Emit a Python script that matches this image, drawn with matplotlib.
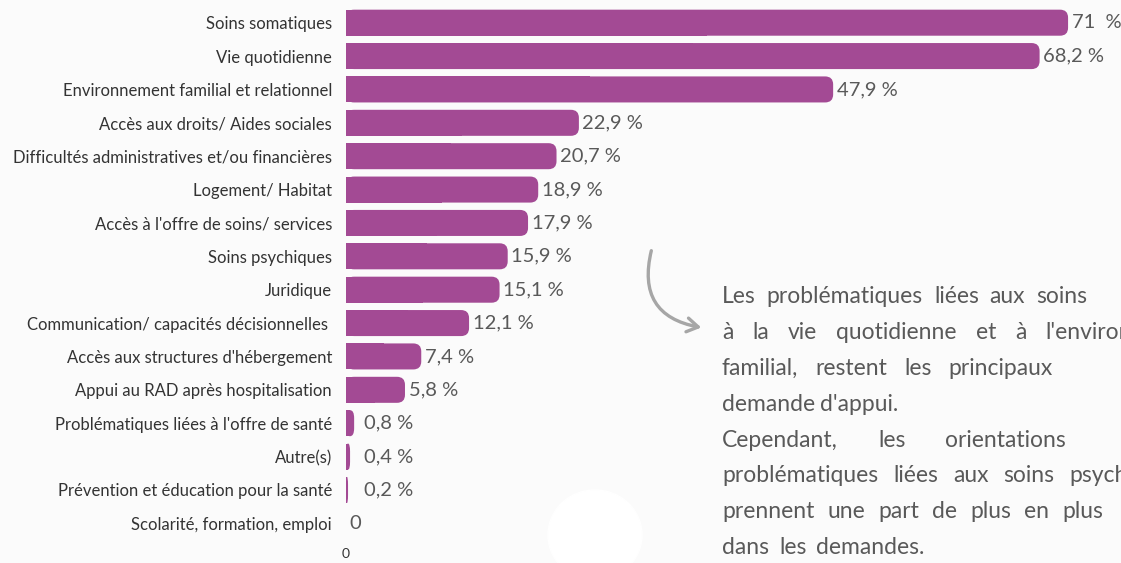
import matplotlib

matplotlib.use("Agg")

import matplotlib.pyplot as plt
from matplotlib.patches import Ellipse, FancyArrowPatch, FancyBboxPatch
from matplotlib.transforms import IdentityTransform

CATEGORIES = [
    "Soins somatiques",
    "Vie quotidienne",
    "Environnement familial et relationnel",
    "Accès aux droits/ Aides sociales",
    "Difficultés administratives et/ou financières",
    "Logement/ Habitat",
    "Accès à l'offre de soins/ services",
    "Soins psychiques",
    "Juridique",
    "Communication/ capacités décisionnelles ",
    "Accès aux structures d'hébergement",
    "Appui au RAD après hospitalisation",
    "Problématiques liées à l'offre de santé",
    "Autre(s)",
    "Prévention et éducation pour la santé",
    "Scolarité, formation, emploi",
]
VALUES = [71, 68.2, 47.9, 22.9, 20.7, 18.9, 17.9, 15.9, 15.1, 12.1, 7.4, 5.8, 0.8, 0.4, 0.2, 0]
VALUE_LABELS = ["71  %", "68,2 %", "47,9 %", "22,9 %", "20,7 %", "18,9 %", "17,9 %", "15,9 %",
                "15,1 %", "12,1 %", "7,4 %", "5,8 %", "0,8 %", "0,4 %", "0,2 %", "0"]

NOTE_LINES = [
    "Les problématiques liées aux soins",
    "à la vie quotidienne et à l'environnement",
    "familial, restent les principaux",
    "demande d'appui.",
    "Cependant, les orientations",
    "problématiques liées aux soins psychiques",
    "prennent une part de plus en plus",
    "dans les demandes.",
]
# spacing between words (px), mimics the justified paragraph
NOTE_GAPS = [11, 19, 17, 5, 40, 15, 13, 10]

W, H = 1121, 563
BAR_COLOR = "#a34a94"
TEXT_COLOR = "#333333"
VALUE_COLOR = "#595959"

plt.rcParams["font.family"] = ["Lato", "DejaVu Sans"]

fig = plt.figure(figsize=(W / 100, H / 100), dpi=100, facecolor="#fbfbfb")
fig.add_artist(Ellipse((595 / W, (H - 535) / H), 94 / W, 90 / H,
                       transform=fig.transFigure, color="white", zorder=-1))

left_px, top_px, bottom_px = 346, 6, 540
px_per_unit = 10.17
n = len(CATEGORIES)
px_per_row = (bottom_px - top_px) / n

ax = fig.add_axes([left_px / W, (H - bottom_px) / H, (W - left_px) / W, (bottom_px - top_px) / H])
ax.set_facecolor("none")
ax.set_xlim(0, (W - left_px) / px_per_unit)
ax.set_ylim(n - 0.5, -0.5)

bar_h = 0.78
r_px = 8
for i, v in enumerate(VALUES):
    if v <= 0:
        continue
    rx = min(r_px / px_per_unit, v / 2)
    ry = r_px / px_per_row
    ax.add_patch(FancyBboxPatch((0, i - bar_h / 2), v, bar_h,
                                boxstyle=f"round,pad=0,rounding_size={rx}",
                                mutation_aspect=ry / rx, facecolor=BAR_COLOR,
                                edgecolor="none", zorder=2))
    ax.barh(i, v / 2, height=bar_h, left=0, color=BAR_COLOR, zorder=2)

for i, (v, lab) in enumerate(zip(VALUES, VALUE_LABELS)):
    x = v + 0.35 if (v >= 1 or v == 0) else 1.8
    ax.text(x, i, lab, ha="left", va="center", fontsize=14.5, color=VALUE_COLOR)

ax.set_yticks(range(n))
ax.set_yticklabels(CATEGORIES, fontsize=12, color=TEXT_COLOR)
ax.set_xticks([0])
ax.set_xticklabels(["0"], fontsize=10, color=TEXT_COLOR)
ax.tick_params(axis="both", length=0)
ax.tick_params(axis="y", pad=10)
ax.tick_params(axis="x", pad=6)
for spine in ax.spines.values():
    spine.set_visible(False)

# side note, word by word so the lines look justified
renderer = fig.canvas.get_renderer()
x0, base0, line_step = 722, 303, 35.9
for k, (line, gap) in enumerate(zip(NOTE_LINES, NOTE_GAPS)):
    x = x0
    y = H - (base0 + k * line_step)
    for word in line.split(" "):
        t = fig.text(x, y, word, transform=IdentityTransform(), fontsize=16.5,
                     color=VALUE_COLOR, ha="left", va="baseline")
        x += t.get_window_extent(renderer).width + gap

arrow = FancyArrowPatch((652, H - 248), (704, H - 328), transform=IdentityTransform(),
                        connectionstyle="arc3,rad=0.55",
                        arrowstyle="->,head_length=8,head_width=5",
                        color="#a6a6a6", linewidth=2.4)
fig.add_artist(arrow)

fig.savefig("out.png", dpi=100, facecolor=fig.get_facecolor())
